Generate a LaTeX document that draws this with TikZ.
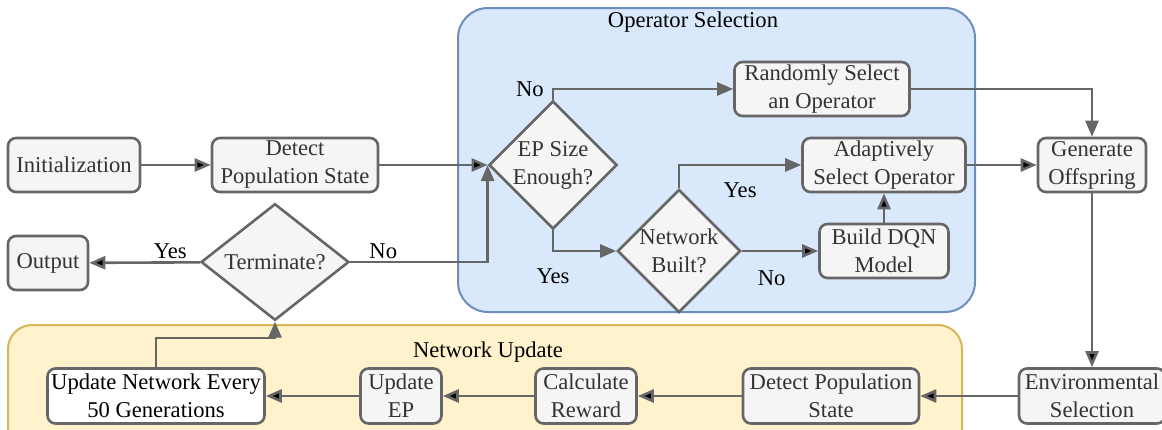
\documentclass[tikz,border=0pt]{standalone}
\usepackage{fontspec}
\setmainfont{Liberation Serif}
\newfontfamily\diagfont{Liberation Serif}
\usetikzlibrary{arrows.meta,shapes.geometric,positioning}
\definecolor{linegray}{HTML}{666666}
\definecolor{boxfill}{HTML}{F5F5F5}
\definecolor{boxtext}{HTML}{333333}
\definecolor{opfill}{HTML}{DAE8FC}
\definecolor{opline}{HTML}{6C8EBF}
\definecolor{upfill}{HTML}{FFF2CC}
\definecolor{upline}{HTML}{D6B656}

\begin{document}
\begin{tikzpicture}[x=0.5pt,y=-0.5pt,>={Triangle[length=8pt,width=6.5pt]},
    font=\diagfont\fontsize{11.3}{14}\selectfont]
    \tikzset{process/.style={draw=linegray,fill=boxfill,text=boxtext,rectangle,rounded corners=4pt,
        line width=1.3pt,align=center,inner sep=0pt,minimum height=27pt},
      decision/.style={draw=linegray,fill=boxfill,text=boxtext,diamond,line width=1.3pt,
        align=center,inner sep=0pt},
      flow/.style={draw=linegray,line width=1.3pt,->},
      lbl/.style={text=black,inner sep=1pt}}
    \useasboundingbox (0,0) rectangle (1162,429);
    % groups
    \draw[fill=opfill,draw=opline,line width=1pt,rounded corners=15pt] (458,8) rectangle (975,312);
    \node (opsel) at (693,22) {Operator Selection};
    \draw[fill=upfill,draw=upline,line width=1pt,rounded corners=12pt] (8,325) rectangle (962,460);
    \node (netup) at (488,352) {Network Update};
    % main line
    \node[process,minimum width=66pt] (init) at (74,165) {Initialization};
    \node[process,minimum width=83pt] (detect) at (295,165) {Detect\\Population State};
    \node[process,minimum width=40pt] (output) at (48,263) {Output};
    \node[decision,minimum width=74pt,minimum height=53.5pt] (term) at (275,262) {Terminate?};
    % operator selection
    \node[decision,minimum width=60pt,minimum height=53pt] (ep) at (553,165) {EP Size\\Enough?};
    \node[process,minimum width=87.5pt] (rand) at (822,89) {Randomly Select\\an Operator};
    \node[process,minimum width=81.5pt] (adapt) at (884,165) {Adaptively\\Select Operator};
    \node[decision,minimum width=60.5pt,minimum height=53.5pt] (built) at (679,251) {Network\\Built?};
    \node[process,minimum width=64.5pt] (dqn) at (884,251) {Build DQN\\Model};
    \node[process,minimum width=54pt] (gen) at (1092,165) {Generate\\Offspring};
    % network update
    \node[process,minimum width=73pt,minimum height=27.5pt] (env) at (1092,396) {Environmental\\Selection};
    \node[process,minimum width=88pt,minimum height=27.5pt] (detect2) at (831,396) {Detect Population\\State};
    \node[process,minimum width=50.5pt,minimum height=27.5pt] (reward) at (586,396) {Calculate\\Reward};
    \node[process,minimum width=40.5pt,minimum height=27.5pt] (upep) at (401,396) {Update\\EP};
    \node[process,fill=white,text=black,minimum width=108.5pt,minimum height=27.5pt] (upnet) at (156,396) {Update Network Every\\50 Generations};
    \coordinate (jog) at (220,338);
    % connectors
    \path[flow]
    (init) edge (detect)
    (detect) edge (ep.west)
    (term) edge node[lbl,above,pos=0.27] {Yes} (output)
    (built) edge node[lbl,below,yshift=-8pt,pos=0.39] {No} (dqn)
    (dqn) edge (adapt)
    (adapt) edge (gen)
    (gen) edge (env)
    (env) edge (detect2)
    (detect2) edge (reward)
    (reward) edge (upep)
    (upep) edge (upnet)
    ;
    \draw[flow] (term.east) -| node[lbl,above,pos=0.12] {No} (ep.west);
    \draw[flow] (ep.north) |- node[lbl,left,pos=0.5,xshift=-3pt] {No} (rand.west);
    \draw[flow] (ep.south) |- node[lbl,below,pos=0.5,yshift=-7pt] {Yes} (built.west);
    \draw[flow] (built.north) |- node[lbl,below,pos=0.75,yshift=-7pt] {Yes} (adapt.west);
    \draw[flow] (rand.east) -| (gen.north);
    \draw[flow] (upnet.north) |- (jog) -| (term.south);
  \end{tikzpicture}
\end{document}
